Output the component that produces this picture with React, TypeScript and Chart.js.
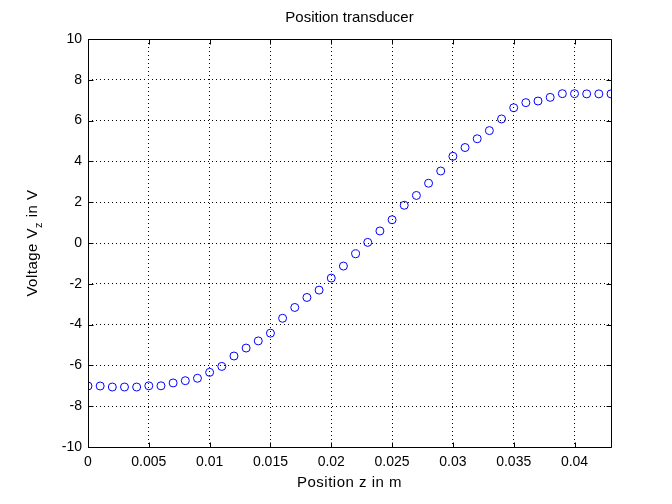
import React, { useEffect, useRef } from "react";
import { Chart, registerables } from "chart.js";

Chart.register(...registerables);

const positions = [
  0, 0.001, 0.002, 0.003, 0.004, 0.005, 0.006, 0.007, 0.008, 0.009,
  0.01, 0.011, 0.012, 0.013, 0.014, 0.015, 0.016, 0.017, 0.018, 0.019,
  0.02, 0.021, 0.022, 0.023, 0.024, 0.025, 0.026, 0.027, 0.028, 0.029,
  0.03, 0.031, 0.032, 0.033, 0.034, 0.035, 0.036, 0.037, 0.038, 0.039,
  0.04, 0.041, 0.042, 0.043,
];
const voltages = [
  -7.01, -7.01, -7.06, -7.06, -7.06, -7.0, -7.0, -6.86, -6.75, -6.63,
  -6.34, -6.05, -5.54, -5.15, -4.8, -4.42, -3.69, -3.16, -2.67, -2.31,
  -1.72, -1.13, -0.53, 0.03, 0.59, 1.14, 1.85, 2.33, 2.93, 3.53,
  4.25, 4.68, 5.11, 5.51, 6.08, 6.63, 6.88, 6.96, 7.14, 7.32,
  7.32, 7.31, 7.31, 7.31,
];
const xTicks = [0, 0.005, 0.01, 0.015, 0.02, 0.025, 0.03, 0.035, 0.04];
const xTickLabels = ["0", "0.005", "0.01", "0.015", "0.02", "0.025", "0.03", "0.035", "0.04"];
const yTicks = [-10, -8, -6, -4, -2, 0, 2, 4, 6, 8, 10];
const yTickLabels = ["-10", "-8", "-6", "-4", "-2", "0", "2", "4", "6", "8", "10"];

const titleText = "Position transducer";
const xTitle = "Position z in m";
const yTitleMain = "Voltage V";
const yTitleSub = "z";
const yTitleEnd = " in V";

const FONT = "Liberation Sans, Arial, sans-serif";

export default function App() {
  const ref = useRef<HTMLCanvasElement | null>(null);

  useEffect(() => {
    if (!ref.current) return;
    const framePlugin = {
      id: "matlabFrame",
      afterDraw(chart: any) {
        const { ctx, chartArea } = chart;
        const { left, right, top, bottom } = chartArea;
        const xs = chart.scales.x;
        const ys = chart.scales.y;
        ctx.save();
        ctx.strokeStyle = "#000";
        ctx.lineWidth = 1;
        ctx.setLineDash([]);
        const L = Math.round(left) + 0.5;
        const R = Math.round(right) + 0.5;
        const T = Math.round(top) + 0.5;
        const B = Math.round(bottom) + 0.5;
        ctx.beginPath();
        ctx.rect(L, T, R - L, B - T);
        ctx.stroke();
        const tl = 5;
        ctx.beginPath();
        xTicks.forEach((v) => {
          const p = Math.round(xs.getPixelForValue(v)) + 0.5;
          ctx.moveTo(p, B);
          ctx.lineTo(p, B - tl);
          ctx.moveTo(p, T);
          ctx.lineTo(p, T + tl);
        });
        yTicks.forEach((v) => {
          const p = Math.round(ys.getPixelForValue(v)) + 0.5;
          ctx.moveTo(L, p);
          ctx.lineTo(L + tl, p);
          ctx.moveTo(R, p);
          ctx.lineTo(R - tl, p);
        });
        ctx.stroke();

        const cx = (left + right) / 2;
        ctx.fillStyle = "#000";
        ctx.font = `15px ${FONT}`;
        ctx.textAlign = "center";
        ctx.textBaseline = "middle";
        (ctx as any).letterSpacing = "0px";
        ctx.fillText(titleText, cx, 18);
        (ctx as any).letterSpacing = "0.5px";
        ctx.fillText(xTitle, cx, 483);

        // y title with subscript
        ctx.translate(33, (top + bottom) / 2);
        ctx.rotate(-Math.PI / 2);
        ctx.textAlign = "left";
        ctx.font = `15px ${FONT}`;
        const w1 = ctx.measureText(yTitleMain).width;
        const w3 = ctx.measureText(yTitleEnd).width;
        ctx.font = `11px ${FONT}`;
        const w2 = ctx.measureText(yTitleSub).width;
        let x0 = -(w1 + w2 + w3) / 2;
        ctx.font = `15px ${FONT}`;
        ctx.fillText(yTitleMain, x0, 0);
        x0 += w1;
        ctx.font = `11px ${FONT}`;
        ctx.fillText(yTitleSub, x0, 6);
        x0 += w2;
        ctx.font = `15px ${FONT}`;
        ctx.fillText(yTitleEnd, x0, 0);
        ctx.restore();
      },
    };

    const chart = new Chart(ref.current, {
      type: "scatter",
      data: {
        datasets: [
          {
            data: positions.map((x, i) => ({ x, y: voltages[i] })),
            showLine: false,
            pointStyle: "circle",
            pointRadius: 4,
            pointHoverRadius: 4,
            borderColor: "#0000ff",
            backgroundColor: "rgba(0,0,0,0)",
            borderWidth: 1,
          },
        ],
      },
      options: {
        responsive: false,
        animation: false,
        events: [],
        layout: { padding: { left: 0, right: 61, top: 39, bottom: 0 } },
        plugins: {
          legend: { display: false },
          tooltip: { enabled: false },
          title: { display: false },
        },
        scales: {
          x: {
            type: "linear",
            min: 0,
            max: 0.043,
            afterBuildTicks: (scale: any) => {
              scale.ticks = xTicks.map((v) => ({ value: v }));
            },
            afterFit: (scale: any) => {
              scale.height = 57;
            },
            ticks: {
              color: "#000",
              font: { family: FONT, size: 14 },
              padding: 7,
              maxRotation: 0,
              autoSkip: false,
              callback: (v: any) => {
                const i = xTicks.findIndex((t) => Math.abs(t - v) < 1e-9);
                return i >= 0 ? xTickLabels[i] : "";
              },
            },
            grid: { color: "#000", lineWidth: 1, drawTicks: false },
            border: { display: false, dash: [1, 3] },
          },
          y: {
            type: "linear",
            min: -10,
            max: 10,
            afterBuildTicks: (scale: any) => {
              scale.ticks = yTicks.map((v) => ({ value: v }));
            },
            afterFit: (scale: any) => {
              scale.width = 88;
            },
            ticks: {
              color: "#000",
              font: { family: FONT, size: 14 },
              padding: 6,
              autoSkip: false,
              callback: (v: any) => {
                const i = yTicks.findIndex((t) => Math.abs(t - v) < 1e-9);
                return i >= 0 ? yTickLabels[i] : "";
              },
            },
            grid: { color: "#000", lineWidth: 1, drawTicks: false },
            border: { display: false, dash: [1, 3] },
          },
        },
      },
      plugins: [framePlugin],
    } as any);
    return () => chart.destroy();
  }, []);

  return (
    <div style={{ position: "absolute", left: 0, top: 0, width: 672, height: 504, background: "#fff" }}>
      <canvas ref={ref} width={672} height={504} />
    </div>
  );
}
